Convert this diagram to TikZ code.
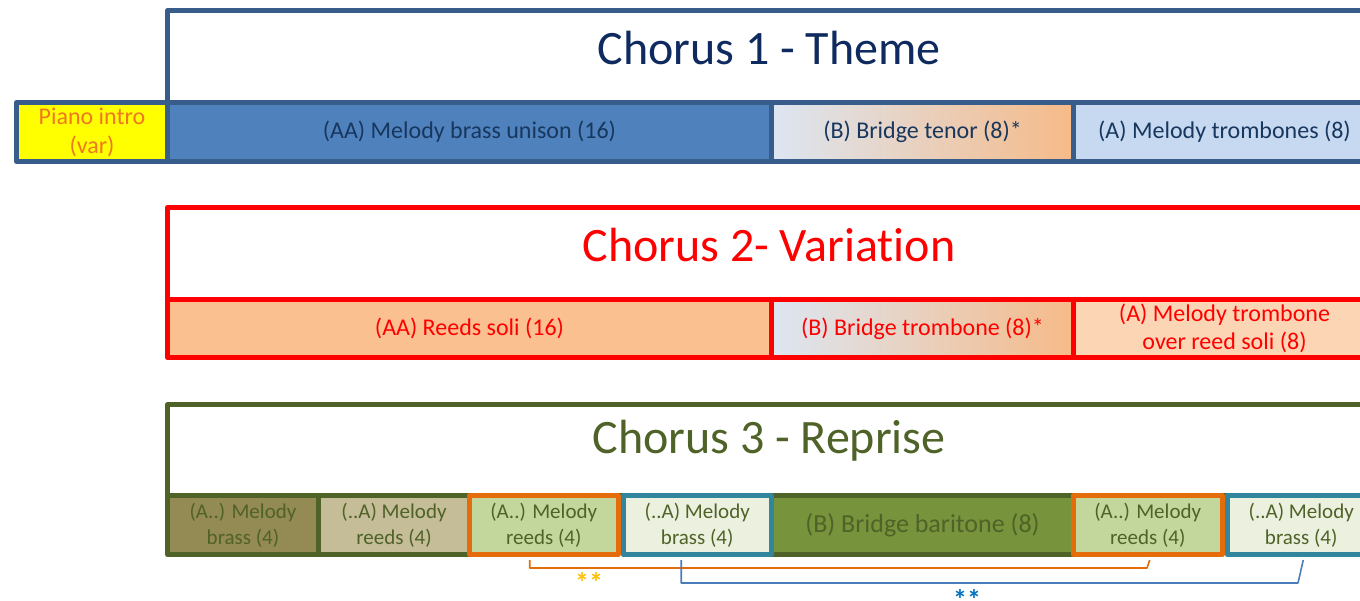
\documentclass[tikz,border=0pt]{standalone}
\usepackage{fontspec}
\setmainfont{Carlito}[Ligatures=NoCommon]
\usetikzlibrary{calc}
\definecolor{cAline}{HTML}{385D8A}
\definecolor{cAtitle}{HTML}{0E2A5F}
\definecolor{cAtext}{HTML}{17375E}
\definecolor{cAaa}{HTML}{4F81BD}
\definecolor{cAa}{HTML}{C6D9F1}
\definecolor{gL}{HTML}{DCE6F2}
\definecolor{gM}{HTML}{C6D9F1}
\definecolor{gR}{HTML}{F6BA88}
\definecolor{pianofill}{HTML}{FFFF00}
\definecolor{pianotext}{HTML}{F07820}
\definecolor{cBline}{HTML}{FF0000}
\definecolor{cBaa}{HTML}{FAC090}
\definecolor{cBa}{HTML}{FCD5B5}
\definecolor{cCline}{HTML}{4F6228}
\definecolor{cCone}{HTML}{948A54}
\definecolor{cCtwo}{HTML}{C4BD97}
\definecolor{cCthree}{HTML}{C3D69B}
\definecolor{cCfour}{HTML}{EBF1DE}
\definecolor{cCfive}{HTML}{77933C}
\definecolor{orline}{HTML}{E46C0A}
\definecolor{teline}{HTML}{31859C}
\definecolor{gold}{HTML}{FFC000}
\definecolor{blueline}{HTML}{4A7EBB}
\definecolor{bluestar}{HTML}{0070C0}
\begin{document}
\begin{tikzpicture}[x=1pt,y=-1pt,line join=round,
  box/.style={draw,line width=5pt,inner sep=0pt,anchor=north west,align=center},
  titlebox/.style={box,minimum width=1208,minimum height=92},
  titletext/.style={font=\fontsize{48}{56}\selectfont},
  rowA/.style={box,draw=cAline,text=cAtext,minimum height=59,font=\fontsize{24}{29}\selectfont},
  rowB/.style={box,draw=cBline,text=cBline,minimum height=58,font=\fontsize{24}{28}\selectfont},
  rowC/.style={box,draw=cCline,text=cCline,minimum height=59,font=\fontsize{21}{26}\selectfont},
  grad/.style={left color=gL,middle color=gM,right color=gR},
  bracket/.style={line width=1.6pt},
  stars/.style={inner sep=0pt,anchor=base,font=\fontsize{28}{30}\selectfont\bfseries}
]
\useasboundingbox (0,0) rectangle (1360,600);
\clip (0,0) rectangle (1360,600);
\fill[white] (0,0) rectangle (1360,600);

% Chorus 1
\node[titlebox,draw=cAline] (t1) at (165,8) {};
\node[titletext,text=cAtitle] (t1txt) at (769,48) {Chorus 1 - Theme};
\node[rowA,fill=pianofill,text=pianotext,minimum width=151] (piano) at (14,100) {Piano intro\\(var)};
\node[rowA,fill=cAaa,minimum width=604] (a1) at (165,100) {(AA) Melody brass unison (16)};
\node[rowA,grad,minimum width=302] (a2) at (769,100) {(B) Bridge tenor (8)*};
\node[rowA,fill=cAa,minimum width=302] (a3) at (1071,100) {(A) Melody trombones (8)};

% Chorus 2
\node[titlebox,draw=cBline] (t2) at (165,205) {};
\node[titletext,text=cBline] (t2txt) at (769,245) {Chorus 2- Variation};
\node[rowB,fill=cBaa,minimum width=604] (b1) at (165,297) {(AA) Reeds soli (16)};
\node[rowB,grad,minimum width=302] (b2) at (769,297) {(B) Bridge trombone (8)*};
\node[rowB,fill=cBa,minimum width=302] (b3) at (1071,297) {(A) Melody trombone\\over reed soli (8)};

% Chorus 3
\node[titlebox,draw=cCline,minimum height=91] (t3) at (165,402) {};
\node[titletext,text=cCline] (t3txt) at (769,441) {Chorus 3 - Reprise};
\node[rowC,fill=cCone,minimum width=151] (c1) at (165,493) {(A..) Melody\\brass (4)};
\node[rowC,fill=cCtwo,minimum width=151] (c2) at (316,493) {(..A) Melody\\reeds (4)};
\node[rowC,fill=cCfive,minimum width=302,font=\fontsize{26}{30}\selectfont] (c5) at (769,493) {(B) Bridge baritone (8)};
\node[rowC,draw=orline,fill=cCthree,minimum width=148.5] (c3) at (467,493) {(A..) Melody\\reeds (4)};
\node[rowC,draw=teline,fill=cCfour,minimum width=148.5] (c4) at (620.5,493) {(..A) Melody\\brass (4)};
\node[rowC,draw=orline,fill=cCthree,minimum width=148.5] (c6) at (1071,493) {(A..) Melody\\reeds (4)};
\node[rowC,draw=teline,fill=cCfour,minimum width=148.5] (c7) at (1224.5,493) {(..A) Melody\\brass (4)};

% brackets
\coordinate (oL) at ($(c3.south)+(-14,3)$);
\coordinate (oR) at ($(c6.south)+(2,3)$);
\draw[bracket,draw=orline] (oL) |- (1147,568) -- (oR);
\coordinate (bL) at ($(c4.south)+(-16,3)$);
\coordinate (bR) at ($(c7.south)+(2,3)$);
\draw[bracket,draw=blueline] (bL) |- (1298,583) -- (bR);
\node[stars,text=gold] (s1) at (589,577) {\raisebox{-15pt}[0pt][0pt]{**}};
\node[stars,text=bluestar] (s2) at (967,594) {\raisebox{-15pt}[0pt][0pt]{**}};
\end{tikzpicture}
\end{document}
